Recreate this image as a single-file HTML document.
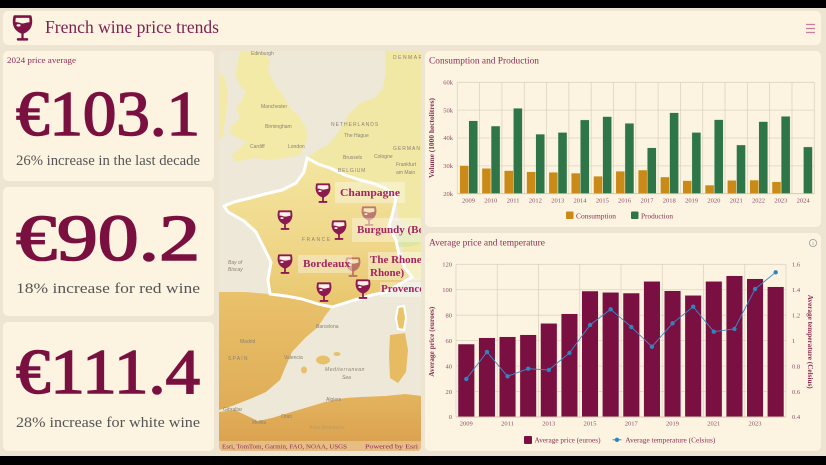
<!DOCTYPE html>
<html><head><meta charset="utf-8"><style>
html,body{margin:0;padding:0;background:#000;overflow:hidden;width:826px;height:465px}
svg{display:block}
</style></head><body>
<svg width="826" height="465" viewBox="0 0 826 465" xmlns="http://www.w3.org/2000/svg" font-family="'Liberation Serif', serif">
<defs>
  <symbol id="glass" viewBox="0 0 20 26">
    <path d="M2.5,1.5 H17.5 C19,8 18,14 10,17 C2,14 1,8 2.5,1.5 Z" fill="#fcf4e1" stroke="#7e1446" stroke-width="2.6" stroke-linejoin="round"/>
    <path d="M2.3,7.2 C6,6 8,8.6 11,8.1 C14,7.6 16,6.6 17.7,7.2 C17.3,12 15,15 10,16.4 C5,15 2.6,12 2.3,7.2 Z" fill="#7e1446"/>
    <ellipse cx="6.2" cy="10" rx="2" ry="1.2" fill="#fcf4e1"/>
    <rect x="8.9" y="16.5" width="2.2" height="6.5" fill="#7e1446"/>
    <rect x="4.5" y="22.3" width="11" height="2.4" rx="1" fill="#7e1446"/>
  </symbol>
  <symbol id="mglass" viewBox="0 0 20 26">
    <path d="M2.5,1.5 H17.5 C19,8 18,14 10,17 C2,14 1,8 2.5,1.5 Z" fill="#fbf1e4" stroke="#8c1a50" stroke-width="2.4" stroke-linejoin="round"/>
    <path d="M2.3,7.2 C6,6 8,8.6 11,8.1 C14,7.6 16,6.6 17.7,7.2 C17.3,12 15,15 10,16.4 C5,15 2.6,12 2.3,7.2 Z" fill="#8c1a50"/>
    <ellipse cx="6.2" cy="10" rx="2" ry="1.2" fill="#fbf1e4"/>
    <rect x="8.9" y="16.5" width="2.2" height="6.5" fill="#8c1a50"/>
    <rect x="4.5" y="22.3" width="11" height="2.4" rx="1" fill="#8c1a50"/>
  </symbol>
  <clipPath id="mapclip"><rect x="219" y="51" width="202" height="400" rx="4"/></clipPath>
  <linearGradient id="frg" x1="0" y1="0" x2="0" y2="1">
    <stop offset="0" stop-color="#f3e6a0"/><stop offset="0.6" stop-color="#efd688"/><stop offset="1" stop-color="#e8c56c"/>
  </linearGradient>
  <linearGradient id="spg" x1="0" y1="0" x2="0" y2="1">
    <stop offset="0" stop-color="#eac26c"/><stop offset="1" stop-color="#dfac56"/>
  </linearGradient>
  <linearGradient id="afg" x1="0" y1="0" x2="0" y2="1">
    <stop offset="0" stop-color="#e4b45e"/><stop offset="1" stop-color="#d99f4e"/>
  </linearGradient>
</defs>

<rect width="826" height="465" fill="#000"/>
<rect x="0" y="8" width="826" height="448" fill="#ede5d2"/>

<!-- header -->
<rect x="3" y="11" width="818" height="34" rx="5" fill="#fcf4e1"/>
<use href="#glass" x="12" y="15" width="21" height="27"/>
<text x="45" y="33" font-size="18" fill="#7d2150" textLength="174" lengthAdjust="spacingAndGlyphs">French wine price trends</text>
<g stroke="#c8809f" stroke-width="1.3">
  <line x1="806" y1="24.5" x2="815" y2="24.5"/><line x1="806" y1="28.5" x2="815" y2="28.5"/><line x1="806" y1="32.5" x2="815" y2="32.5"/>
</g>

<!-- KPI cards -->
<rect x="3" y="51" width="211" height="130" rx="5" fill="#fcf4e1"/>
<text x="7" y="63" font-size="8" fill="#8a2d55" textLength="69" lengthAdjust="spacingAndGlyphs">2024 price average</text>
<text x="16" y="135" font-size="64" fill="#7a1040" stroke="#7a1040" stroke-width="1.6" textLength="184" lengthAdjust="spacingAndGlyphs">€103.1</text>
<text x="16" y="165" font-size="14.5" fill="#555" textLength="184" lengthAdjust="spacingAndGlyphs">26% increase in the last decade</text>

<rect x="3" y="187" width="211" height="129" rx="5" fill="#fcf4e1"/>
<text x="16" y="260" font-size="66" fill="#7a1040" stroke="#7a1040" stroke-width="1.6" textLength="184" lengthAdjust="spacingAndGlyphs">€90.2</text>
<text x="16" y="293" font-size="14.5" fill="#555" textLength="184" lengthAdjust="spacingAndGlyphs">18% increase for red wine</text>

<rect x="3" y="322" width="211" height="129" rx="5" fill="#fcf4e1"/>
<text x="16" y="393" font-size="64" fill="#7a1040" stroke="#7a1040" stroke-width="1.6" textLength="184" lengthAdjust="spacingAndGlyphs">€111.4</text>
<text x="16" y="427" font-size="14.5" fill="#555" textLength="184" lengthAdjust="spacingAndGlyphs">28% increase for white wine</text>

<!-- map -->
<g clip-path="url(#mapclip)">
  <rect x="219" y="51" width="202" height="400" fill="#eee8d8"/>
  <path d="M219,72 L225,78 L228,95 L226,115 L223,135 L219,142 Z" fill="#f3eaa8"/>
  <path d="M240,51 L262,51 L270,60 L268,70 L275,85 L283,95 L290,108 L300,117 L306,128 L308,138 L303,148 L300,155 L285,158 L270,160 L255,158 L245,160 L235,162 L232,155 L240,148 L247,142 L238,138 L229,133 L232,125 L240,118 L236,108 L242,100 L246,92 L240,85 L235,75 L238,62 Z" fill="#f3eaa8"/>
  <path d="M385,51 L422,51 L422,280 L410,276 L405,268 L396,198 L385,188 L345,175 L307,158 L318,150 L328,145 L340,130 L348,115 L360,103 L375,98 L383,88 L386,70 Z" fill="#f2e8a6"/>
  <ellipse cx="402" cy="238" rx="22" ry="9" fill="#d4e3a4" opacity="0.7"/>
  <ellipse cx="396" cy="226" rx="12" ry="5" fill="#e6e2cc" opacity="0.8"/>
  <path d="M219,292 L245,292 L270,294 L286,296 L302,299 L318,304 L332,307 L325,316 L318,327 L305,338 L292,352 L285,368 L280,380 L266,392 L250,399 L232,406 L219,410 Z" fill="url(#spg)"/>
  <path d="M307,158 L318,164 L330,168 L345,175 L360,180 L372,183 L385,188 L396,198 L393,212 L389,226 L396,240 L399,255 L405,268 L412,277 L400,284 L386,292 L372,295 L358,299 L345,303 L332,307 L318,304 L302,299 L286,296 L270,294 L268,280 L271,262 L263,246 L256,232 L244,221 L228,212 L224,206 L234,202 L250,198 L265,194 L282,190 L296,183 L304,172 Z" fill="url(#frg)" stroke="#ffffff" stroke-width="3" stroke-linejoin="round"/>
  <path d="M219,412 L235,410 L258,421 L272,418 L285,414 L305,408 L325,402 L345,398 L361,397 L385,396 L405,394 L422,396 L422,451 L219,451 Z" fill="url(#afg)"/>
  <path d="M398,307 L404,306 L406,318 L404,330 L398,329 L396,318 Z" fill="#e9c46a" stroke="#fff" stroke-width="2"/>
  <path d="M390,335 L405,333 L408,350 L406,372 L398,383 L390,378 L389,355 Z" fill="#e6bb62"/>
  <ellipse cx="323" cy="360" rx="7" ry="4.5" fill="#e8c06a"/>
  <ellipse cx="337" cy="354" rx="3.5" ry="2" fill="#e8c06a"/>
  <ellipse cx="304" cy="370" rx="3" ry="3.5" fill="#e8c06a"/>
  <g font-family="'Liberation Sans', sans-serif" font-size="5" fill="#8a8272">
    <text x="251" y="55">Edinburgh</text>
    <text x="261" y="108">Manchester</text>
    <text x="265" y="128">Birmingham</text>
    <text x="250" y="148">Cardiff</text>
    <text x="288" y="148">London</text>
    <text x="331" y="126" letter-spacing="1">NETHERLANDS</text>
    <text x="344" y="137">The Hague</text>
    <text x="343" y="159">Brussels</text>
    <text x="374" y="158">Cologne</text>
    <text x="338" y="172" letter-spacing="0.8">BELGIUM</text>
    <text x="393" y="150" letter-spacing="1">GERMANY</text>
    <text x="396" y="166">Frankfurt</text>
    <text x="396" y="174">am Main</text>
    <text x="393" y="59" letter-spacing="1.5">DENMARK</text>
    <text x="302" y="241" letter-spacing="1.5">FRANCE</text>
    <text x="228" y="264" font-style="italic">Bay of</text>
    <text x="228" y="271" font-style="italic">Biscay</text>
    <text x="240" y="343">Madrid</text>
    <text x="228" y="360" letter-spacing="1.2">SPAIN</text>
    <text x="316" y="328">Barcelona</text>
    <text x="284" y="359">Valencia</text>
    <text x="325" y="371" font-style="italic" letter-spacing="0.6">Mediterranean</text>
    <text x="342" y="379" font-style="italic">Sea</text>
    <text x="326" y="401">Algiers</text>
    <text x="223" y="411">Gibraltar</text>
    <text x="252" y="424">Melilla</text>
    <text x="281" y="418">Oran</text>
    <text x="309" y="429" fill="#c09a5a" font-style="italic">Atlas Mountains</text>
  </g>
  <use href="#mglass" x="315" y="183" width="16" height="21"/>
  <use href="#mglass" x="277" y="210" width="16" height="21"/>
  <use href="#mglass" x="331" y="220" width="16" height="21"/>
  <use href="#mglass" x="361" y="206" width="16" height="21" opacity="0.5"/>
  <use href="#mglass" x="277" y="254" width="16" height="21"/>
  <use href="#mglass" x="345" y="257" width="16" height="21" opacity="0.5"/>
  <use href="#mglass" x="316" y="282" width="16" height="21"/>
  <use href="#mglass" x="355" y="279" width="16" height="21"/>
  <g fill="#ffffff" opacity="0.35">
    <rect x="335" y="182" width="70" height="21"/>
    <rect x="352" y="218" width="73" height="24"/>
    <rect x="298" y="255" width="54" height="18"/>
    <rect x="368" y="252" width="57" height="28"/>
    <rect x="380" y="282" width="45" height="15"/>
  </g>
  <g font-size="11" font-weight="bold" fill="#a3245f">
    <text x="340" y="196" textLength="60" lengthAdjust="spacingAndGlyphs">Champagne</text>
    <text x="357" y="233">Burgundy (Bourgogne)</text>
    <text x="303" y="267" textLength="47" lengthAdjust="spacingAndGlyphs">Bordeaux</text>
    <text x="370" y="263">The Rhone Valley (Côtes du</text>
    <text x="370" y="276">Rhone)</text>
    <text x="381" y="292">Provence</text>
  </g>
  <rect x="219" y="441" width="202" height="10" fill="#fcf4e1" opacity="0.35"/>
  <text x="222" y="448.5" font-size="6" fill="#8a2d55" textLength="125" lengthAdjust="spacingAndGlyphs">Esri, TomTom, Garmin, FAO, NOAA, USGS</text>
  <text x="365" y="448.5" font-size="6" fill="#8a2d55" textLength="53" lengthAdjust="spacingAndGlyphs">Powered by Esri</text>
</g>

<!-- Chart 1 -->
<rect x="425" y="51" width="396" height="176" rx="5" fill="#fcf4e1"/>
<text x="429" y="63.5" font-size="9.5" fill="#8a2d55" textLength="110" lengthAdjust="spacingAndGlyphs">Consumption and Production</text>
<g stroke="#dcd3bf" stroke-width="0.8">
  <line x1="457.3" y1="82.3" x2="814.3" y2="82.3"/>
  <line x1="457.3" y1="110.15" x2="814.3" y2="110.15"/>
  <line x1="457.3" y1="138" x2="814.3" y2="138"/>
  <line x1="457.3" y1="165.85" x2="814.3" y2="165.85"/>
  <line x1="457.3" y1="82.3" x2="457.3" y2="193.7"/>
  <line x1="479.61" y1="82.3" x2="479.61" y2="193.7"/>
  <line x1="501.93" y1="82.3" x2="501.93" y2="193.7"/>
  <line x1="524.24" y1="82.3" x2="524.24" y2="193.7"/>
  <line x1="546.55" y1="82.3" x2="546.55" y2="193.7"/>
  <line x1="568.86" y1="82.3" x2="568.86" y2="193.7"/>
  <line x1="591.18" y1="82.3" x2="591.18" y2="193.7"/>
  <line x1="613.49" y1="82.3" x2="613.49" y2="193.7"/>
  <line x1="635.8" y1="82.3" x2="635.8" y2="193.7"/>
  <line x1="658.11" y1="82.3" x2="658.11" y2="193.7"/>
  <line x1="680.43" y1="82.3" x2="680.43" y2="193.7"/>
  <line x1="702.74" y1="82.3" x2="702.74" y2="193.7"/>
  <line x1="725.05" y1="82.3" x2="725.05" y2="193.7"/>
  <line x1="747.36" y1="82.3" x2="747.36" y2="193.7"/>
  <line x1="769.68" y1="82.3" x2="769.68" y2="193.7"/>
  <line x1="791.99" y1="82.3" x2="791.99" y2="193.7"/>
  <line x1="814.3" y1="82.3" x2="814.3" y2="193.7"/>
</g>
<g fill="#c98a17" stroke="#fcf4e1" stroke-width="0.4">
  <rect x="459.66" y="165.57" width="9" height="28.13"/>
  <rect x="481.97" y="168.36" width="9" height="25.34"/>
  <rect x="504.28" y="170.58" width="9" height="23.12"/>
  <rect x="526.59" y="171.7" width="9" height="22"/>
  <rect x="548.91" y="172.26" width="9" height="21.44"/>
  <rect x="571.22" y="173.09" width="9" height="20.61"/>
  <rect x="593.53" y="176.15" width="9" height="17.55"/>
  <rect x="615.84" y="171.14" width="9" height="22.56"/>
  <rect x="638.16" y="170.03" width="9" height="23.67"/>
  <rect x="660.47" y="176.99" width="9" height="16.71"/>
  <rect x="682.78" y="180.61" width="9" height="13.09"/>
  <rect x="705.09" y="185.07" width="9" height="8.63"/>
  <rect x="727.41" y="180.33" width="9" height="13.37"/>
  <rect x="749.72" y="180.05" width="9" height="13.65"/>
  <rect x="772.03" y="181.72" width="9" height="11.98"/>
</g>
<g fill="#2e7548" stroke="#fcf4e1" stroke-width="0.4">
  <rect x="468.76" y="120.73" width="9" height="72.97"/>
  <rect x="491.07" y="126.02" width="9" height="67.68"/>
  <rect x="513.38" y="108.2" width="9" height="85.5"/>
  <rect x="535.69" y="134.1" width="9" height="59.6"/>
  <rect x="558.01" y="132.43" width="9" height="61.27"/>
  <rect x="580.32" y="119.9" width="9" height="73.8"/>
  <rect x="602.63" y="116.56" width="9" height="77.14"/>
  <rect x="624.94" y="123.24" width="9" height="70.46"/>
  <rect x="647.26" y="147.75" width="9" height="45.95"/>
  <rect x="669.57" y="112.66" width="9" height="81.04"/>
  <rect x="691.88" y="132.43" width="9" height="61.27"/>
  <rect x="714.19" y="119.62" width="9" height="74.08"/>
  <rect x="736.51" y="144.96" width="9" height="48.74"/>
  <rect x="758.82" y="121.57" width="9" height="72.13"/>
  <rect x="781.13" y="116.28" width="9" height="77.42"/>
  <rect x="803.44" y="146.91" width="9" height="46.79"/>
</g>
<line x1="457.3" y1="193.7" x2="814.3" y2="193.7" stroke="#cfc5ae" stroke-width="0.9"/>
<g font-size="6.5" fill="#8a4f6a" text-anchor="end">
  <text x="453" y="84.5">60k</text>
  <text x="453" y="112.3">50k</text>
  <text x="453" y="140.2">40k</text>
  <text x="453" y="168">30k</text>
  <text x="453" y="195.9">20k</text>
</g>
<g font-size="6.5" fill="#8a4f6a" text-anchor="middle">
  <text x="468.46" y="202.7">2009</text><text x="490.77" y="202.7">2010</text><text x="513.08" y="202.7">2011</text><text x="535.39" y="202.7">2012</text>
  <text x="557.71" y="202.7">2013</text><text x="580.02" y="202.7">2014</text><text x="602.33" y="202.7">2015</text><text x="624.64" y="202.7">2016</text>
  <text x="646.96" y="202.7">2017</text><text x="669.27" y="202.7">2018</text><text x="691.58" y="202.7">2019</text><text x="713.89" y="202.7">2020</text>
  <text x="736.21" y="202.7">2021</text><text x="758.52" y="202.7">2022</text><text x="780.83" y="202.7">2023</text><text x="803.14" y="202.7">2024</text>
</g>
<text transform="translate(434,138) rotate(-90)" text-anchor="middle" font-size="6.8" font-weight="bold" fill="#8a2d55" textLength="80" lengthAdjust="spacingAndGlyphs">Volume (1000 hectolitres)</text>
<rect x="566" y="211.5" width="7.5" height="7.5" rx="1" fill="#c98a17"/>
<text x="576" y="218.3" font-size="7" fill="#8a2d55" textLength="40" lengthAdjust="spacingAndGlyphs">Consumption</text>
<rect x="631" y="211.5" width="7.5" height="7.5" rx="1" fill="#2e7548"/>
<text x="641" y="218.3" font-size="7" fill="#8a2d55" textLength="32" lengthAdjust="spacingAndGlyphs">Production</text>

<!-- Chart 2 -->
<rect x="425" y="233" width="396" height="218" rx="5" fill="#fcf4e1"/>
<text x="429" y="245.7" font-size="9.5" fill="#8a2d55" textLength="116" lengthAdjust="spacingAndGlyphs">Average price and temperature</text>
<circle cx="813" cy="243" r="3.6" fill="none" stroke="#999" stroke-width="0.8"/>
<text x="813" y="245.2" font-size="5.5" fill="#888" text-anchor="middle">i</text>
<g stroke="#dcd3bf" stroke-width="0.8">
  <line x1="456" y1="264.3" x2="786" y2="264.3"/>
  <line x1="456" y1="289.75" x2="786" y2="289.75"/>
  <line x1="456" y1="315.2" x2="786" y2="315.2"/>
  <line x1="456" y1="340.65" x2="786" y2="340.65"/>
  <line x1="456" y1="366.1" x2="786" y2="366.1"/>
  <line x1="456" y1="391.55" x2="786" y2="391.55"/>
  <line x1="456" y1="264.3" x2="456" y2="417"/>
  <line x1="497.25" y1="264.3" x2="497.25" y2="417"/>
  <line x1="538.5" y1="264.3" x2="538.5" y2="417"/>
  <line x1="579.75" y1="264.3" x2="579.75" y2="417"/>
  <line x1="621" y1="264.3" x2="621" y2="417"/>
  <line x1="662.25" y1="264.3" x2="662.25" y2="417"/>
  <line x1="703.5" y1="264.3" x2="703.5" y2="417"/>
  <line x1="744.75" y1="264.3" x2="744.75" y2="417"/>
  <line x1="786" y1="264.3" x2="786" y2="417"/>
</g>
<g fill="#7a0f42" stroke="#fcf4e1" stroke-width="0.5">
  <rect x="458" y="344" width="16.6" height="73"/>
  <rect x="478.63" y="337.7" width="16.6" height="79.3"/>
  <rect x="499.25" y="336.7" width="16.6" height="80.3"/>
  <rect x="519.88" y="334.7" width="16.6" height="82.3"/>
  <rect x="540.5" y="323.3" width="16.6" height="93.7"/>
  <rect x="561.13" y="313.7" width="16.6" height="103.3"/>
  <rect x="581.75" y="291" width="16.6" height="126"/>
  <rect x="602.38" y="292.3" width="16.6" height="124.7"/>
  <rect x="623" y="293" width="16.6" height="124"/>
  <rect x="643.63" y="281.3" width="16.6" height="135.7"/>
  <rect x="664.25" y="290.7" width="16.6" height="126.3"/>
  <rect x="684.88" y="295.3" width="16.6" height="121.7"/>
  <rect x="705.5" y="281.3" width="16.6" height="135.7"/>
  <rect x="726.13" y="275.7" width="16.6" height="141.3"/>
  <rect x="746.75" y="278.7" width="16.6" height="138.3"/>
  <rect x="767.38" y="286.7" width="16.6" height="130.3"/>
</g>
<line x1="456" y1="417" x2="786" y2="417" stroke="#cfc5ae" stroke-width="0.9"/>
<polyline fill="none" stroke="#3a8cc6" stroke-width="0.9" points="466.31,379 486.94,352 507.56,376.3 528.19,368.7 548.81,370 569.44,353 590.06,325 610.69,309.3 631.31,327 651.94,346.7 672.56,323.3 693.19,306.7 713.81,331.7 734.44,329 755.06,289 775.69,272.3"/>
<g fill="#2e86c1">
  <circle cx="466.31" cy="379" r="2.2"/><circle cx="486.94" cy="352" r="2.2"/><circle cx="507.56" cy="376.3" r="2.2"/><circle cx="528.19" cy="368.7" r="2.2"/>
  <circle cx="548.81" cy="370" r="2.2"/><circle cx="569.44" cy="353" r="2.2"/><circle cx="590.06" cy="325" r="2.2"/><circle cx="610.69" cy="309.3" r="2.2"/>
  <circle cx="631.31" cy="327" r="2.2"/><circle cx="651.94" cy="346.7" r="2.2"/><circle cx="672.56" cy="323.3" r="2.2"/><circle cx="693.19" cy="306.7" r="2.2"/>
  <circle cx="713.81" cy="331.7" r="2.2"/><circle cx="734.44" cy="329" r="2.2"/><circle cx="755.06" cy="289" r="2.2"/><circle cx="775.69" cy="272.3" r="2.2"/>
</g>
<g font-size="6.5" fill="#8a4f6a" text-anchor="end">
  <text x="452" y="266.5">120</text>
  <text x="452" y="292">100</text>
  <text x="452" y="317.4">80</text>
  <text x="452" y="342.9">60</text>
  <text x="452" y="368.3">40</text>
  <text x="452" y="393.8">20</text>
  <text x="452" y="419.2">0</text>
</g>
<g font-size="6.5" fill="#8a4f6a" text-anchor="start">
  <text x="792" y="266.5">1.6</text>
  <text x="792" y="292">1.4</text>
  <text x="792" y="317.4">1.2</text>
  <text x="792" y="342.9">1</text>
  <text x="792" y="368.3">0.8</text>
  <text x="792" y="393.8">0.6</text>
  <text x="792" y="419.2">0.4</text>
</g>
<g font-size="6.5" fill="#8a4f6a" text-anchor="middle">
  <text x="466.31" y="425.7">2009</text><text x="507.56" y="425.7">2011</text><text x="548.81" y="425.7">2013</text><text x="590.06" y="425.7">2015</text>
  <text x="631.31" y="425.7">2017</text><text x="672.56" y="425.7">2019</text><text x="713.81" y="425.7">2021</text><text x="755.06" y="425.7">2023</text>
</g>
<text transform="translate(434,341.7) rotate(-90)" text-anchor="middle" font-size="6.8" font-weight="bold" fill="#8a2d55" textLength="70" lengthAdjust="spacingAndGlyphs">Average price (euroes)</text>
<text transform="translate(808,341.7) rotate(90)" text-anchor="middle" font-size="6.8" font-weight="bold" fill="#8a2d55" textLength="94" lengthAdjust="spacingAndGlyphs">Average temperature (Celsius)</text>
<rect x="524" y="436" width="8" height="8" rx="1" fill="#7a0f42"/>
<text x="534.5" y="442.5" font-size="7" fill="#8a2d55" textLength="66" lengthAdjust="spacingAndGlyphs">Average price (euroes)</text>
<line x1="612.5" y1="439.8" x2="621.5" y2="439.8" stroke="#3a8cc6" stroke-width="1"/>
<circle cx="617" cy="439.8" r="2.2" fill="#2e86c1"/>
<text x="625.3" y="442.5" font-size="7" fill="#8a2d55" textLength="90" lengthAdjust="spacingAndGlyphs">Average temperature (Celsius)</text>
</svg>
</body></html>
